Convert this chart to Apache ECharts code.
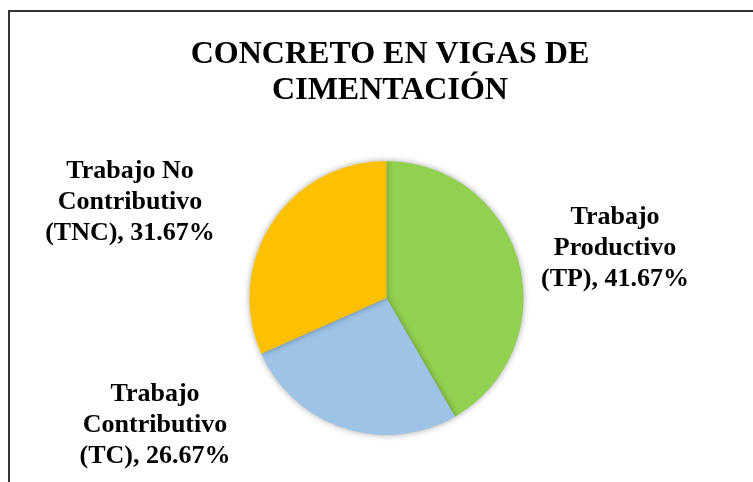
<!DOCTYPE html>
<html>
<head>
<meta charset="utf-8">
<script src="https://cdn.jsdelivr.net/npm/echarts@6/dist/echarts.min.js"></script>
<style>html,body{margin:0;padding:0;background:#fff}#c{width:753px;height:482px}</style>
</head>
<body>
<div id="c"></div>
<script>
const titleText = 'CONCRETO EN VIGAS DE\nCIMENTACIÓN';
const categories = ['Trabajo\nProductivo\n(TP)', 'Trabajo\nContributivo\n(TC)', 'Trabajo No\nContributivo\n(TNC)'];
const values = [41.67, 26.67, 31.67];
const colors = ['#92D050', '#9DC3E6', '#FFC000'];
const labelPos = [[615, 248], [155, 425], [130, 202]];

const chart = echarts.init(document.getElementById('c'));
const font = "'Liberation Serif', 'Times New Roman', serif";
chart.setOption({
  animation: false,
  backgroundColor: '#fff',
  title: {
    text: titleText,
    left: 385, top: 32, textAlign: 'center',
    textStyle: { fontFamily: font, fontWeight: 'bold', fontSize: 32, lineHeight: 36, color: '#000' }
  },
  graphic: [{
    type: 'rect', shape: { x: 9, y: 11, width: 800, height: 520 },
    style: { fill: 'none', stroke: '#333', lineWidth: 2 }, silent: true
  }],
  series: [{
    type: 'pie',
    center: [386.5, 298],
    radius: 137,
    startAngle: 90,
    clockwise: true,
    data: categories.map((n, i) => ({ name: n, value: values[i], itemStyle: { color: colors[i] } })),
    itemStyle: { shadowBlur: 6, shadowColor: 'rgba(0,0,0,0.35)', borderWidth: 0 },
    label: {
      show: true, position: 'outside',
      formatter: p => p.name + ', ' + p.value.toFixed(2) + '%',
      fontFamily: font, fontWeight: 'bold', fontSize: 26, lineHeight: 31, color: '#000', align: 'center'
    },
    labelLine: { show: false },
    labelLayout: function (params) {
      const p = labelPos[params.dataIndex];
      return { x: p[0], y: p[1], align: 'center', verticalAlign: 'middle' };
    },
    emphasis: { disabled: true }
  }]
});
</script>
</body>
</html>
